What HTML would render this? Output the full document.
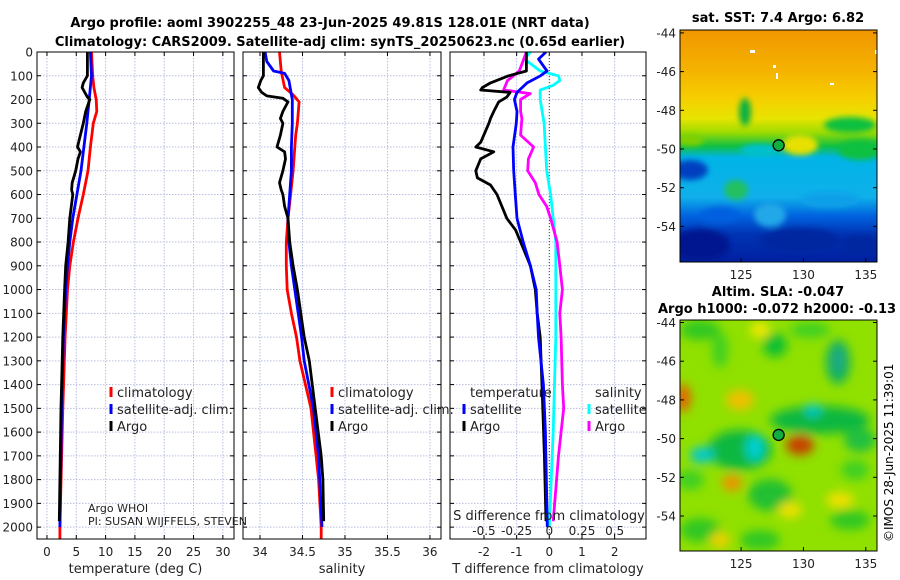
<!DOCTYPE html>
<html><head><meta charset="utf-8"><style>
html,body{margin:0;padding:0;background:#fff;}
svg{display:block;font-family:"DejaVu Sans","Liberation Sans",sans-serif;}
</style></head><body>
<svg id="fig" width="900" height="580" viewBox="0 0 900 580">
<defs>
<filter id="bl" x="-50%" y="-50%" width="200%" height="200%"><feGaussianBlur stdDeviation="5"/></filter>
<filter id="bl2" x="-50%" y="-50%" width="200%" height="200%"><feGaussianBlur stdDeviation="3"/></filter>
<clipPath id="c1"><rect x="37" y="52" width="197" height="487"/></clipPath>
<clipPath id="c2"><rect x="243" y="52" width="198" height="487"/></clipPath>
<clipPath id="c3"><rect x="450" y="52" width="196" height="487"/></clipPath>
<clipPath id="cm1"><rect x="680" y="30" width="197" height="232"/></clipPath>
<clipPath id="cm2"><rect x="680" y="320" width="197" height="231"/></clipPath>
<linearGradient id="sstg" x1="0" y1="0" x2="0" y2="1">
<stop offset="0" stop-color="#f09600"/><stop offset="0.18" stop-color="#f5b400"/>
<stop offset="0.3" stop-color="#f5d000"/><stop offset="0.38" stop-color="#e8e400"/>
<stop offset="0.44" stop-color="#a0dc00"/><stop offset="0.5" stop-color="#10c040"/>
<stop offset="0.55" stop-color="#00b4e8"/><stop offset="0.72" stop-color="#10b0ea"/>
<stop offset="0.8" stop-color="#0064e0"/><stop offset="0.88" stop-color="#0034b4"/>
<stop offset="1" stop-color="#0020a0"/></linearGradient>
</defs>
<g font-weight="bold" font-size="13" text-anchor="middle">
<text x="330" y="27">Argo profile: aoml 3902255_48 23-Jun-2025 49.81S 128.01E (NRT data)</text>
<text x="340" y="46">Climatology: CARS2009. Satellite-adj clim: synTS_20250623.nc (0.65d earlier)</text>
<text x="778" y="22">sat. SST: 7.4 Argo: 6.82</text>
<text x="778" y="296">Altim. SLA: -0.047</text>
<text x="658" y="313" text-anchor="start">Argo h1000: -0.072 h2000: -0.13</text>
</g>
<g id="maps"></g>
<g id="panels"></g>
<text transform="translate(893,542) rotate(-90)" font-size="12">©IMOS 28-Jun-2025 11:39:01</text>
</svg>
<script>
// ---- data ----
const tClimDepth=[0,100,150,200,250,300,400,500,600,700,800,900,1000,1200,1500,2000,2050];
const tClimVal=[7.6,7.8,8.0,8.4,8.5,7.9,7.4,7.0,6.2,5.3,4.5,3.9,3.5,3.1,2.7,2.2,2.2];
const tSatDepth=[0,100,200,300,400,500,600,700,800,900,1000,1200,1500,2000];
const tSatVal=[7.4,7.6,7.2,6.8,6.3,5.8,5.1,4.4,3.9,3.5,3.2,2.8,2.5,2.2];
const tArgoDepth=[0,100,130,150,190,200,250,300,380,400,420,450,500,550,580,600,700,800,900,1000,1200,1500,1975];
const tArgoVal=[6.9,6.9,6.2,6.0,6.9,7.3,6.6,6.2,5.4,5.2,5.7,5.3,4.9,4.3,4.2,4.4,3.9,3.6,3.2,3.0,2.7,2.4,2.1];
const sClimDepth=[0,80,150,180,210,300,350,400,500,600,700,800,900,1000,1100,1200,1300,1500,1700,1800,2000,2050];
const sClimVal=[34.23,34.25,34.29,34.39,34.46,34.44,34.42,34.41,34.39,34.36,34.33,34.31,34.31,34.32,34.37,34.43,34.47,34.6,34.66,34.69,34.72,34.72];
const sSatDepth=[0,40,80,90,120,200,300,400,500,600,700,800,900,1000,1100,1200,1300,1500,1700,2000];
const sSatVal=[34.06,34.08,34.16,34.29,34.34,34.38,34.38,34.37,34.37,34.35,34.33,34.34,34.37,34.41,34.45,34.49,34.52,34.63,34.69,34.73];
const sArgoDepth=[0,100,120,150,170,185,195,210,250,280,300,350,400,420,450,500,550,580,600,650,700,800,900,1000,1100,1200,1300,1500,1700,1800,1975];
const sArgoVal=[34.04,34.04,34.01,33.98,34.02,34.08,34.27,34.33,34.27,34.24,34.27,34.24,34.2,34.29,34.3,34.27,34.23,34.25,34.27,34.29,34.33,34.35,34.39,34.44,34.48,34.52,34.58,34.65,34.72,34.74,34.75];
const dtArgoDepth=[0,80,100,130,150,160,170,190,210,250,280,300,380,400,420,450,500,530,560,600,650,700,750,800,850,900,1000,1100,1200,1300,1500,1700,1975];
const dtArgoVal=[-0.7,-0.7,-1.25,-1.8,-2.05,-2.1,-1.2,-1.3,-1.55,-1.7,-1.8,-1.85,-2.1,-2.25,-1.7,-2.1,-2.25,-2.2,-1.8,-1.6,-1.45,-1.3,-1.03,-0.88,-0.73,-0.58,-0.43,-0.37,-0.28,-0.25,-0.2,-0.15,-0.1];
const dtSatDepth=[0,30,80,100,130,170,200,250,300,400,500,600,700,800,900,1000,1100,1200,1400,1600,2000];
const dtSatVal=[-0.1,-0.33,-0.07,-0.27,-0.68,-0.99,-1.07,-0.99,-1.01,-1.11,-1.09,-1.04,-0.99,-0.8,-0.58,-0.4,-0.37,-0.33,-0.18,-0.12,-0.06];
const dsSatDepth=[0,30,80,100,120,140,160,200,300,400,500,600,700,800,1000,1200,1400,1600,2000];
const dsSatVal=[-0.145,-0.19,-0.07,0.07,0.08,0.03,-0.07,-0.07,-0.04,-0.03,-0.02,0.01,0.03,0.05,0.05,0.05,0.04,0.03,0.0];
const dsArgoDepth=[0,80,120,160,175,200,250,280,350,400,450,500,550,600,650,700,800,900,1000,1100,1200,1400,1500,1700,1975];
const dsArgoVal=[-0.175,-0.23,-0.32,-0.35,-0.145,-0.22,-0.22,-0.21,-0.22,-0.12,-0.16,-0.165,-0.107,-0.08,-0.02,0.01,0.06,0.08,0.1,0.08,0.09,0.1,0.11,0.07,0.03];
const depthTicks=[0,100,200,300,400,500,600,700,800,900,1000,1100,1200,1300,1400,1500,1600,1700,1800,1900,2000];
const tempTicks=[0,5,10,15,20,25,30];
const salTicks=[34,34.5,35,35.5,36];
const salTickLabels=["34","34.5","35","35.5","36"];
const dtTicks=[-2,-1,0,1,2];
const dsTicks=[-0.5,-0.25,0,0.25,0.5];
const dsTickLabels=["-0.5","-0.25","0","0.25","0.5"];
const latTicks=[-44,-46,-48,-50,-52,-54];
const lonTicks=[125,130,135];

const NS="http://www.w3.org/2000/svg";
function mk(tag,attrs,parent){const e=document.createElementNS(NS,tag);for(const k in attrs)e.setAttribute(k,attrs[k]);parent.appendChild(e);return e;}
const Y0=52,Y1=539,D1=2050;
const yD=d=>Y0+(d/D1)*(Y1-Y0);
function scl(x0,x1,a,b){return v=>x0+(v-a)/(b-a)*(x1-x0);}
const panels=document.getElementById('panels');

const P=[
 {x0:37,x1:234,a:-1.7,b:31.9,name:'temperature-panel',clip:'c1',ticks:tempTicks,labels:tempTicks.map(String),title:'temperature (deg C)'},
 {x0:243,x1:441,a:33.8,b:36.13,name:'salinity-panel',clip:'c2',ticks:salTicks,labels:salTickLabels,title:'salinity'},
 {x0:450,x1:646,a:-3.04,b:2.96,name:'difference-panel',clip:'c3',ticks:dtTicks,labels:dtTicks.map(String),title:'T difference from climatology'}
];
P.forEach((p,i)=>{
 p.sx=scl(p.x0,p.x1,p.a,p.b);
 const g=mk('g',{},panels);
 
 
 depthTicks.forEach(d=>{
  const l=mk('line',{x1:p.x0,x2:p.x1,y1:yD(d),y2:yD(d),stroke:'#b8bedf','stroke-width':1,'stroke-dasharray':'1.5,1.5'},g);
  
  
  mk('line',{x1:p.x0,x2:p.x0+4,y1:yD(d),y2:yD(d),stroke:'#000'},g);
  mk('line',{x1:p.x1-4,x2:p.x1,y1:yD(d),y2:yD(d),stroke:'#000'},g);
 });
 p.ticks.forEach((t,k)=>{
  const x=p.sx(t);
  const l=mk('line',{x1:x,x2:x,y1:Y0,y2:Y1,stroke:'#b8bedf','stroke-width':1,'stroke-dasharray':'1.5,1.5'},g);
  
  
  mk('line',{x1:x,x2:x,y1:Y1,y2:Y1-4,stroke:'#000'},g);
  mk('line',{x1:x,x2:x,y1:Y0,y2:Y0+4,stroke:'#000'},g);
  const tx=mk('text',{x:x,y:556,'font-size':12,'text-anchor':'middle',fill:'#222'},g);
  tx.textContent=p.labels[k];
  
  
 });
 const tt=mk('text',{x:(p.x0+p.x1)/2,y:573,'font-size':13,'text-anchor':'middle',fill:'#222'},g);
 tt.textContent=p.title;
 
 
 if(i===0){
  depthTicks.forEach(d=>{
   const tx=mk('text',{x:33,y:yD(d)+4.5,'font-size':12,'text-anchor':'end',fill:'#222'},g);
   tx.textContent=String(d);
   
   
  });
 }
 p.g=g;
});

function series(p,depths,vals,color,name,sx){
 sx=sx||p.sx;
 let d='';
 depths.forEach((z,k)=>{d+=(k?'L':'M')+sx(vals[k]).toFixed(1)+','+yD(z).toFixed(1);});
 const e=mk('path',{d:d,fill:'none',stroke:color,'stroke-width':2.8,'stroke-linejoin':'round','clip-path':'url(#'+p.clip+')'},p.g);
 
 
}
{const p=P[2];const x=p.sx(0);const z=mk('line',{x1:x,x2:x,y1:Y0,y2:Y1,stroke:'#444','stroke-dasharray':'1,2'},p.g);
 
 }
series(P[0],tClimDepth,tClimVal,'#ff0000','temperature-climatology-line');
series(P[0],tSatDepth,tSatVal,'#0000ff','temperature-satellite-line');
series(P[0],tArgoDepth,tArgoVal,'#000000','temperature-argo-line');
series(P[1],sClimDepth,sClimVal,'#ff0000','salinity-climatology-line');
series(P[1],sSatDepth,sSatVal,'#0000ff','salinity-satellite-line');
series(P[1],sArgoDepth,sArgoVal,'#000000','salinity-argo-line');
const sxS=v=>P[2].sx(v*4);
series(P[2],dsSatDepth,dsSatVal,'#00ffff','salinity-diff-satellite-line',sxS);
series(P[2],dsArgoDepth,dsArgoVal,'#ff00ff','salinity-diff-argo-line',sxS);
series(P[2],dtArgoDepth,dtArgoVal,'#000000','temperature-diff-argo-line');
series(P[2],dtSatDepth,dtSatVal,'#0000ff','temperature-diff-satellite-line');

P.forEach(p=>{const r=mk('rect',{x:p.x0,y:Y0,width:p.x1-p.x0,height:Y1-Y0,fill:'none',stroke:'#000'},p.g);
 
 });

{const g=P[2].g;
 const t=mk('text',{x:549,y:520,'font-size':13,'text-anchor':'middle',fill:'#222'},g);
 t.textContent='S difference from climatology';
 
 
 dsTicks.forEach((v,k)=>{const tx=mk('text',{x:sxS(v),y:535,'font-size':12,'text-anchor':'middle',fill:'#222'},g);
  tx.textContent=dsTickLabels[k];
  
  });
}
function legend(g,x,y,color,label){
 if(color){const m=mk('line',{x1:x,x2:x,y1:y-10,y2:y,stroke:color,'stroke-width':3},g);
  
  }
 const t=mk('text',{x:x+6,y:y,'font-size':13,fill:'#222'},g);
 t.textContent=label;
 
 
}
[P[0],P[1]].forEach((p,i)=>{const lx=i?332:111;
 legend(p.g,lx,397,'#ff0000','climatology');
 legend(p.g,lx,414,'#0000ff','satellite-adj. clim.');
 legend(p.g,lx,431,'#000000','Argo');});
legend(P[2].g,464,397,null,'temperature');
legend(P[2].g,464,414,'#0000ff','satellite');
legend(P[2].g,464,431,'#000000','Argo');
legend(P[2].g,589,397,null,'salinity');
legend(P[2].g,589,414,'#00ffff','satellite');
legend(P[2].g,589,431,'#ff00ff','Argo');
{const g=P[0].g;
 const a=mk('text',{x:88,y:512,'font-size':11,fill:'#222'},g);a.textContent='Argo WHOI';
 
 
 const b=mk('text',{x:88,y:525,'font-size':11,fill:'#222'},g);b.textContent='PI: SUSAN WIJFFELS, STEVEN';
 
 }

// ---- maps ----
const maps=document.getElementById('maps');
function mapAxes(g,top,bottom,latTop){
 const pxPerDeg=19.35;
 const lx=v=>680+(v-120.1)*12.47;
 latTicks.forEach(v=>{const y=top+(latTop-v)*pxPerDeg;
  if(y>bottom)return;
  mk('line',{x1:680,x2:684,y1:y,y2:y,stroke:'#000'},g);
  mk('line',{x1:873,x2:877,y1:y,y2:y,stroke:'#000'},g);
  const t=mk('text',{x:676,y:y+4.5,'font-size':12,'text-anchor':'end',fill:'#222'},g);
  t.textContent=String(v);
  
  });
 lonTicks.forEach(v=>{const x=lx(v);
  mk('line',{x1:x,x2:x,y1:bottom,y2:bottom-4,stroke:'#000'},g);
  const t=mk('text',{x:x,y:bottom+17,'font-size':12,'text-anchor':'middle',fill:'#222'},g);
  t.textContent=String(v);
  
  });
 const r=mk('rect',{x:680,y:top,width:197,height:bottom-top,fill:'none',stroke:'#000'},g);
 
 
 const c=mk('circle',{cx:lx(128.01),cy:top+(latTop+49.81)*pxPerDeg,r:5.5,fill:'#10b040',stroke:'#000','stroke-width':1.3},g);
 
 
}
{const g=mk('g',{},maps);
 
 
 const b=mk('g',{'clip-path':'url(#cm1)'},g);
 mk('rect',{x:680,y:30,width:197,height:232,fill:'url(#sstg)'},b);
 const f=mk('g',{filter:'url(#bl2)'},b);
 [[745,112,6,14,'#10b040'],[800,145,18,10,'#e8e000'],[690,170,18,10,'#0040c0'],[736,190,12,10,'#20c060'],
  [690,140,14,6,'#80d000'],[860,150,22,10,'#10c040'],[760,150,20,6,'#00c0d0'],[700,245,30,16,'#001890'],
  [800,240,40,12,'#0028a0'],[830,200,30,8,'#10a0e8'],[720,215,20,8,'#0060e0'],[850,125,26,8,'#10c040'],
  [770,215,16,12,'#20a8e8'],[860,245,20,10,'#0028a0']]
  .forEach(a=>mk('ellipse',{cx:a[0],cy:a[1],rx:a[2],ry:a[3],fill:a[4]},f));
 [[750,50,5,3],[773,65,3,3],[776,73,2,6],[830,83,4,2],[875,50,6,4]].forEach(a=>mk('rect',{x:a[0],y:a[1],width:a[2],height:a[3],fill:'#fff'},b));
 mapAxes(g,30,262,-43.85);
}
{const g=mk('g',{},maps);
 
 
 const b=mk('g',{'clip-path':'url(#cm2)'},g);
 mk('rect',{x:680,y:320,width:197,height:231,fill:'#90e000'},b);
 const f=mk('g',{filter:'url(#bl)'},b);
 [[700,330,20,10,'#30c820'],[775,345,12,12,'#10c030'],[838,362,12,22,'#10b060'],[720,350,8,18,'#40d020'],
  [820,420,50,14,'#10b840'],[740,450,32,20,'#10b840'],[770,495,22,16,'#20c030'],[700,530,20,12,'#30c820'],
  [760,540,20,10,'#30c820'],[850,520,20,10,'#30c820'],[860,440,16,12,'#20c040'],
  [690,480,14,10,'#40d020'],[810,330,20,8,'#40d020'],[855,470,14,10,'#40d020'],
  [683,398,8,14,'#e06800'],[800,445,14,10,'#c84000'],[732,483,10,8,'#f09000'],[740,400,14,10,'#f0c000'],
  [790,510,12,8,'#f0e000'],[840,500,14,8,'#f0e000'],[720,540,10,8,'#f0d000'],[760,330,10,8,'#f0e800'],
  [755,448,9,13,'#00d0d0'],[702,455,12,8,'#00c8d0'],[813,410,8,6,'#00c8d0'],[838,360,5,12,'#20a890']]
  .forEach(a=>mk('ellipse',{cx:a[0],cy:a[1],rx:a[2],ry:a[3],fill:a[4]},f));
 mapAxes(g,320,551,-43.87);
}
</script>
</body></html>
